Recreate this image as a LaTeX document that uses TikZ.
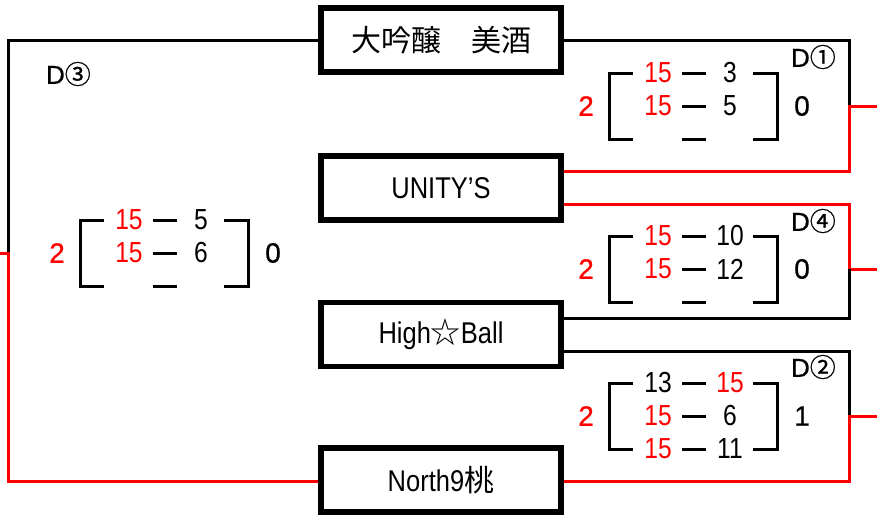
\documentclass[tikz,border=0pt]{standalone}
\usepackage{fontspec}
\setmainfont{Liberation Sans}[FakeStretch=0.85]
\newfontfamily\plainsans{Liberation Sans}[FakeBold=0.8]
\newfontfamily\jp{Noto Sans CJK JP}
\newfontfamily\jpb{Noto Sans CJK JP}[FakeBold=0.8]
\begin{document}
\begin{tikzpicture}[x=1pt,y=-1pt,
  team/.style={draw,line width=5.5pt,minimum width=240pt,minimum height=64pt,inner sep=0pt,font=\fontsize{30}{30}\selectfont},
  conn/.style={line width=3pt},
  win/.style={line width=3pt,red},
  brk/.style={line width=3pt},
  pts/.style={font=\fontsize{29}{29}\selectfont,inner sep=0pt},
  res/.style={font=\plainsans\fontsize{28}{28}\selectfont,inner sep=0pt},
  dlab/.style={font=\plainsans\fontsize{26}{26}\selectfont,inner sep=0pt,anchor=east}
]
\useasboundingbox (0,0) rectangle (877,514);
\fill[white] (0,0) rectangle (877,514);

% teams
\node[team] (t1) at (441,40) {\jp 大吟醸　美酒};
\node[team] (t2) at (441,188) {UNITY’S};
\node[team] (t3) at (441,334.5) {High{\jp ☆}Ball};
\node[team] (t4) at (441,480) {North9{\jp 桃}};

% corner coordinates
\coordinate (l1) at (8,40);
\coordinate (l2) at (8,253);
\coordinate (l3) at (8,481);
\coordinate (l0) at (0,253);
\coordinate (r1a) at (849,40);
\coordinate (r1b) at (849,106);
\coordinate (r1c) at (849,171);
\coordinate (r1e) at (877,106);
\coordinate (r4a) at (849,204);
\coordinate (r4b) at (849,269);
\coordinate (r4c) at (849,318);
\coordinate (r4e) at (877,269);
\coordinate (r2a) at (849,351);
\coordinate (r2b) at (849,416);
\coordinate (r2c) at (849,481);
\coordinate (r2e) at (877,416);

% left (D3)
\draw[conn] (t1.west) -- (l1) -- (l2);
\draw[win] (l0) -- (l2) -- (l3) -- (t4.west |- l3);

% D1
\draw[conn] (t1.east) -- (r1a) -- (r1b);
\draw[win] (r1e) -- (r1b) -- (r1c) -- (t2.east |- r1c);
% D4
\draw[win] (t2.east |- r4a) -- (r4a) -- (r4b) -- (r4e);
\draw[conn] (r4b) -- (r4c) -- (t3.east |- r4c);
% D2
\draw[conn] (t3.east |- r2a) -- (r2a) -- (r2b);
\draw[win] (r2e) -- (r2b) -- (r2c) -- (t4.east |- r2c);

% score block: brackets and dashes
\newcommand\brackets{%
  \draw[brk] (24,-33) -- (0,-33) -- (0,33) -- (24,33);
  \draw[brk] (144,-33) -- (168,-33) -- (168,33) -- (144,33);
  \foreach \r in {-33,0,33} \draw[brk] (73,\r) -- (97,\r);
}

% D1
\begin{scope}[shift={(609,106)}]
  \brackets
  \node[pts,red] (d1a) at (49,-33) {15};
  \node[pts] (d1b) at (121,-33) {3};
  \node[pts,red] (d1c) at (49,0) {15};
  \node[pts] (d1d) at (121,0) {5};
  \node[res,red] (d1w) at (-23,0) {2};
  \node[res] (d1l) at (193,0) {0};
\end{scope}
\node[dlab] (d1) at (836,57) {D{\jpb ①}};

% D4
\begin{scope}[shift={(609,269)}]
  \brackets
  \node[pts,red] (d4a) at (49,-33) {15};
  \node[pts] (d4b) at (121,-33) {10};
  \node[pts,red] (d4c) at (49,0) {15};
  \node[pts] (d4d) at (121,0) {12};
  \node[res,red] (d4w) at (-23,0) {2};
  \node[res] (d4l) at (193,0) {0};
\end{scope}
\node[dlab] (d4) at (836,221) {D{\jpb ④}};

% D2
\begin{scope}[shift={(609,416)}]
  \brackets
  \node[pts] (d2a) at (49,-33) {13};
  \node[pts,red] (d2b) at (121,-33) {15};
  \node[pts,red] (d2c) at (49,0) {15};
  \node[pts] (d2d) at (121,0) {6};
  \node[pts,red] (d2e) at (49,33) {15};
  \node[pts] (d2f) at (121,33) {11};
  \node[res,red] (d2w) at (-23,0) {2};
  \node[res] (d2l) at (193,0) {1};
\end{scope}
\node[dlab] (d2) at (836,367) {D{\jpb ②}};

% D3
\begin{scope}[shift={(80,253)}]
  \brackets
  \node[pts,red] (d3a) at (49,-33) {15};
  \node[pts] (d3b) at (121,-33) {5};
  \node[pts,red] (d3c) at (49,0) {15};
  \node[pts] (d3d) at (121,0) {6};
  \node[res,red] (d3w) at (-23,0) {2};
  \node[res] (d3l) at (193,0) {0};
\end{scope}
\node[dlab] (d3) at (91,74) {D{\jpb ③}};
\end{tikzpicture}
\end{document}
